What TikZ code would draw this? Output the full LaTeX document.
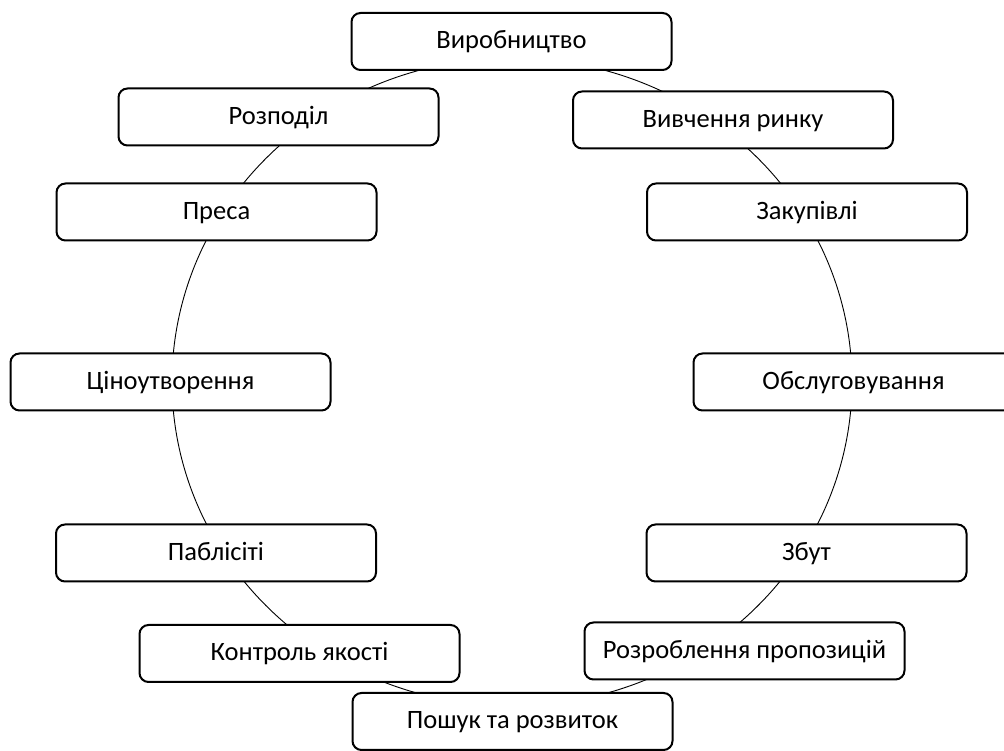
\documentclass[tikz,border=0pt]{standalone}
\usepackage{fontspec}
\setmainfont{Carlito}
\usetikzlibrary{calc,backgrounds}
\begin{document}
\begin{tikzpicture}[x=1pt,y=1pt,
  box/.style={draw=black, line width=2pt, rounded corners=9pt, fill=white,
    minimum width=320pt, minimum height=57pt, inner sep=0pt,
    text height=19pt, text depth=4pt,
    font=\fontsize{26.5}{30}\selectfont},
  ring/.style={draw=black, line width=0.9pt}]
\useasboundingbox (0,0) rectangle (1004,751);
\coordinate (O) at (512,369);
\node[box] (vyr) at (511.5,709.5) {Виробництво};
\node[box] (rozp) at (278.5,634) {Розподіл};
\node[box] (vyv) at (733,631) {Вивчення ринку};
\node[box] (presa) at (216.5,539) {Преса};
\node[box] (zak) at (807,539) {Закупівлі};
\node[box] (cin) at (170.5,369) {Ціноутворення};
\node[box] (obs) at (853.5,369) {Обслуговування};
\node[box] (pabl) at (216,198) {Паблісіті};
\node[box] (zbut) at (806.5,198) {Збут};
\node[box] (kontr) at (299.5,97.5) {Контроль якості};
\node[box] (rozr) at (744.5,100) {Розроблення пропозицій};
\node[box] (posh) at (512.5,29.5) {Пошук та розвиток};
\begin{pgfonlayer}{background}
\foreach \a/\b in {vyr/vyv, vyv/zak, zak/obs, obs/zbut, zbut/rozr, rozr/posh,
                   posh/kontr, kontr/pabl, pabl/cin, cin/presa, presa/rozp, rozp/vyr}{
  \draw[ring] let \p1=($(\a)-(O)$), \p2=($(\b)-(O)$),
      \n1={atan2(\y1/324,\x1/340)}, \n2={atan2(\y2/324,\x2/340)},
      \n3={mod(\n2-\n1+540,360)-180} in
    ($(O)+(\n1:340pt and 324pt)$) arc[start angle=\n1, delta angle=\n3, x radius=340pt, y radius=324pt];
}
\end{pgfonlayer}
\end{tikzpicture}
\end{document}
